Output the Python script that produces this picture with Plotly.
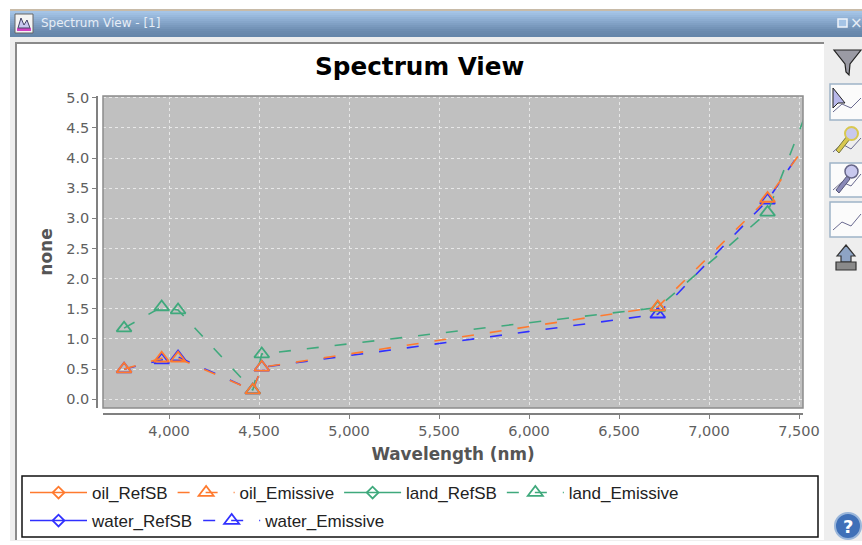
import plotly.graph_objects as go

W, H = 862, 545
wavelengths = [3750, 3959, 4050, 4465, 4515, 6715, 7325, 8550]
oil_emissive = [0.50, 0.68, 0.68, 0.15, 0.53, 1.53, 3.33, 8.4]
land_emissive = [1.18, 1.53, 1.48, 0.15, 0.75, 1.52, 3.10, 12.5]
water_emissive = [0.50, 0.65, 0.70, 0.15, 0.53, 1.41, 3.30, 8.7]
ORANGE, GREEN, BLUE = "#ff7a2e", "#3fa97c", "#3030ff"
x_ticks = [4000, 4500, 5000, 5500, 6000, 6500, 7000, 7500]
x_labels = ["4,000", "4,500", "5,000", "5,500", "6,000", "6,500", "7,000", "7,500"]
y_ticks = [0, .5, 1, 1.5, 2, 2.5, 3, 3.5, 4, 4.5, 5]

ML, MR, MT, MB = 97, 59, 96, 131
PW, PH = W - ML - MR, H - MT - MB


def px(x):
    return (x - ML) / PW


def py(y):
    return (H - MB - y) / PH


def rect(x0, y0, x1, y1, fill, line=None, lw=1, layer="below"):
    return dict(type="rect", xref="paper", yref="paper", x0=px(x0), x1=px(x1),
                y0=py(y1), y1=py(y0), fillcolor=fill, layer=layer,
                line=dict(color=line or "rgba(0,0,0,0)", width=lw if line else 0))


def path(points, fill, line, lw=1):
    s = "M" + " L".join(f"{px(a):.5f},{py(b):.5f}" for a, b in points) + " Z"
    return dict(type="path", xref="paper", yref="paper", path=s, fillcolor=fill,
                line=dict(color=line, width=lw), layer="above")


shapes = [rect(10, 36, W, 541, "#eeeeee"), rect(10, 9, W, 11, "#c8bba8")]
bar = ["#a5c4e6", "#9fbfe2", "#99b9dc", "#92b2d6", "#8cacd0", "#86a6ca", "#80a0c4", "#7a9abe", "#7494b8", "#6e8eb2", "#6a8aae", "#6888ac", "#6586aa"]
for i, c in enumerate(bar):
    shapes.append(rect(10, 11 + 2 * i, W, 13 + 2 * i, c))
shapes += [
    rect(15, 43, 824, 540, "#ffffff"),
    rect(15, 42, 824, 44, "#8a8a8a"),
    rect(15, 42, 17, 540, "#8a8a8a"),
    rect(15, 14, 33, 33, "#f4f4f4", "#666666"),
    rect(22, 476, 818, 537, "#ffffff", "#111111", 1.5),
    # window icon
    rect(17, 28, 31, 31, "#d040c0"),
    path([(18, 28), (21, 18), (24, 25), (27, 20), (30, 28)], "#c8c8f0", "#444466"),
    # maximize icon
    rect(838, 19, 847, 27, "#a5c4e6", "#f0f4fa", 1.5),
    # funnel
    path([(834, 50), (861, 50), (850, 64), (849, 75), (846, 72), (845, 64)], "#9a9aa4", "#222222", 1.2),
]
for y0, y1 in [(84, 120), (125, 160), (163, 197), (202, 237)]:
    shapes.append(rect(830, y0, 866, y1, "#fbfbfb", "#9fb4c8", 1.5) if y0 != 125 else rect(830, y0, 866, y1, "#eeeeee"))
for ys in [(112, 104, 108, 98), (152, 144, 149, 138), (190, 182, 186, 174), (230, 222, 226, 214)]:
    shapes.append(dict(type="path", xref="paper", yref="paper", layer="above", line=dict(color="#6a6a90", width=1),
                       path="M" + " L".join(f"{px(a):.5f},{py(b):.5f}" for a, b in zip((833, 842, 851, 861), ys))))
shapes += [
    path([(833, 88), (833, 108), (838, 103), (845, 103)], "#b8b8ea", "#222222"),
    path([(836, 150), (847, 136), (850, 139), (839, 153)], "#d8c850", "#777740"),
    path([(836, 190), (847, 176), (850, 179), (839, 193)], "#8a8ab8", "#555577"),
    dict(type="circle", xref="paper", yref="paper", x0=px(845), x1=px(858), y0=py(140), y1=py(127), fillcolor="#c8c8ee", line=dict(color="#d8c850", width=2), layer="above"),
    dict(type="circle", xref="paper", yref="paper", x0=px(845), x1=px(858), y0=py(178), y1=py(165), fillcolor="#c8c8ee", line=dict(color="#666688", width=1.5), layer="above"),
    path([(846, 245), (855, 256), (851, 256), (851, 262), (841, 262), (841, 256), (837, 256)], "#8ea4c4", "#333333", 1.2),
    rect(836, 262, 856, 270, "#8a8a8a", "#333333", 1.2, "above"),
    dict(type="circle", xref="paper", yref="paper", x0=px(835), x1=px(861), y0=py(539), y1=py(513), fillcolor="#3f70b8", line=dict(color="#9ab6da", width=2), layer="above"),
    # plot background and frame
    dict(type="rect", xref="x domain", yref="y domain", x0=0, x1=1, y0=0, y1=1, layer="below", fillcolor="#c0c0c0", line=dict(width=0)),
    dict(type="rect", xref="x domain", yref="y domain", x0=0, x1=1, y0=0, y1=1, layer="above", line=dict(color="#8c8c8c", width=1.5)),
]


def trace(name, y, color, symbol, dash, legend, rank):
    ref = y[0] is None
    return go.Scatter(
        x=[None] if ref else wavelengths, y=y, name=name, mode="lines+markers", legend=legend, legendrank=rank,
        line=dict(color=color, width=1.6, dash=dash),
        marker=dict(symbol=symbol, size=9 if ref else 13, color=color, line=dict(color=color, width=1.8)),
    )


D = "12px,16px"
fig = go.Figure([
    trace("water_RefSB", [None], BLUE, "diamond-open", "solid", "legend2", 1),
    trace("water_Emissive", water_emissive, BLUE, "triangle-up-open", D, "legend2", 2),
    trace("land_RefSB", [None], GREEN, "diamond-open", "solid", "legend", 3),
    trace("land_Emissive", land_emissive, GREEN, "triangle-up-open", D, "legend", 4),
    trace("oil_RefSB", [None], ORANGE, "diamond-open", "solid", "legend", 1),
    trace("oil_Emissive", oil_emissive, ORANGE, "triangle-up-open", D, "legend", 2),
])

lg = dict(orientation="h", xanchor="left", yanchor="middle", bgcolor="rgba(0,0,0,0)", itemwidth=57,
          itemclick=False, font=dict(family="Liberation Sans", size=17, color="#222222"), tracegroupgap=0)
axis_font = dict(family="DejaVu Sans", size=14.5, color="#606060")
grid = dict(showgrid=True, gridcolor="#e8e8e8", griddash="3px,3px", gridwidth=1, zeroline=False)
fig.update_layout(
    width=W, height=H, margin=dict(l=ML, r=MR, t=MT, b=MB, autoexpand=False),
    paper_bgcolor="#ffffff", plot_bgcolor="#c0c0c0", shapes=shapes,
    xaxis=dict(domain=[6 / PW, 1], anchor="free", position=0, range=[3633, 7522], tickvals=x_ticks, ticktext=x_labels,
               showline=True, linecolor="#808080", linewidth=1.5, ticks="outside", ticklen=4, tickcolor="#808080",
               tickfont=axis_font, **grid,
               title=dict(text="<b>Wavelength (nm)</b>", font=dict(family="DejaVu Sans", size=16.8, color="#555555"), standoff=9)),
    yaxis=dict(domain=[6 / PH, 1], anchor="free", position=0, range=[-0.145, 5.03], tickvals=y_ticks, tickformat=".1f",
               showline=True, linecolor="#808080", linewidth=1.5, ticks="outside", ticklen=4, tickcolor="#808080",
               tickfont=axis_font, **grid,
               title=dict(text="<b>none</b>", font=dict(family="DejaVu Sans", size=17, color="#555555"), standoff=8)),
    legend=dict(lg, x=px(25), y=py(493)),
    legend2=dict(lg, x=px(25), y=py(521)),
    showlegend=True,
    annotations=[
        dict(text="<b>Spectrum View</b>", xref="paper", yref="paper", x=px(419.5), y=py(66), xanchor="center", yanchor="middle", showarrow=False,
             font=dict(family="DejaVu Sans", size=24.7, color="#000000")),
        dict(text="Spectrum View - [1]", xref="paper", yref="paper", x=px(39), y=py(23), xanchor="left", yanchor="middle", showarrow=False,
             font=dict(family="DejaVu Sans", size=12, color="#e6edf6")),
        dict(text="×", xref="paper", yref="paper", x=px(857), y=py(23), xanchor="center", yanchor="middle", showarrow=False,
             font=dict(family="DejaVu Sans", size=15, color="#e6edf6")),
        dict(text="<b>?</b>", xref="paper", yref="paper", x=px(848), y=py(526), xanchor="center", yanchor="middle", showarrow=False,
             font=dict(family="DejaVu Sans", size=18, color="#ffffff")),
    ],
)
fig.write_html("out.html", config={"displayModeBar": False},
               post_script="document.body.style.margin='0';document.body.style.overflow='hidden';")
